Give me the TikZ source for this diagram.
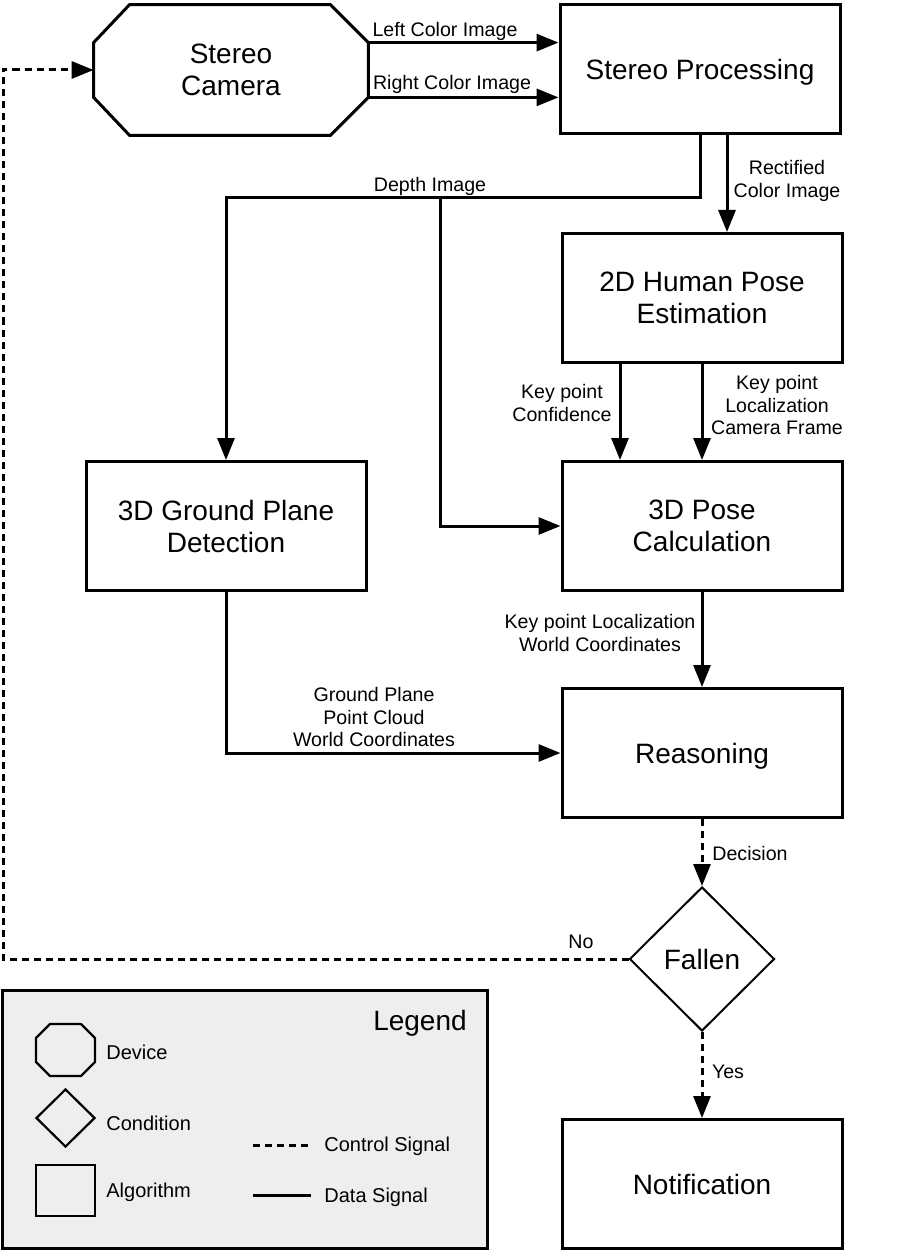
\documentclass[tikz,border=0pt]{standalone}
\usepackage{fontspec}
\setmainfont{Liberation Sans}
\usetikzlibrary{arrows.meta,calc,shapes.geometric}
\definecolor{legendgray}{HTML}{EEEEEE}
\begin{document}
\begin{tikzpicture}[x=0.5pt,y=-0.5pt,
 box/.style={draw,line width=1.5pt,minimum width=140pt,minimum height=64.5pt,align=center,font=\fontsize{14}{16}\selectfont,inner sep=0pt},
 camnode/.style={minimum width=137pt,minimum height=65pt,align=center,font=\fontsize{14}{16}\selectfont,inner sep=0pt},
 lbl/.style={align=center,font=\fontsize{9.8}{11.3}\selectfont,inner sep=0pt},
 legtxt/.style={anchor=west,font=\fontsize{10}{12}\selectfont,inner sep=0pt},
 data/.style={line width=1.5pt,-{Triangle[length=11pt,width=8.5pt]}},
 ctrl/.style={data,dash pattern=on 3.5pt off 2.5pt},
 ctrlline/.style={line width=1.5pt,dash pattern=on 3.5pt off 2.5pt},
 dataline/.style={line width=1.5pt},
]
\useasboundingbox (0,0) rectangle (902,1251);

% nodes
\node[camnode] (cam) at (231,70) {Stereo\\Camera};
\draw[line width=1.5pt] ($(cam.north west)+(36,0)$) -- ($(cam.north east)+(-38,0)$) -- ($(cam.north east)+(0,38)$) -- ($(cam.south east)+(0,-38)$) -- ($(cam.south east)+(-38,0)$) -- ($(cam.south west)+(36,0)$) -- ($(cam.south west)+(0,-38)$) -- ($(cam.north west)+(0,38)$) -- cycle;
\node[box,text depth=0pt] (proc) at (700,69) {Stereo Processing};
\node[box] (hpe) at (702,298) {2D Human Pose\\Estimation};
\node[box] (gp) at (226,526) {3D Ground Plane\\Detection};
\node[box] (p3) at (702,526) {3D Pose\\Calculation};
\node[box,text depth=0pt] (reason) at (702,753) {Reasoning};
\node[draw,diamond,line width=1pt,minimum width=72.5pt,minimum height=72pt,inner sep=0pt,aspect=1,font=\fontsize{14}{16}\selectfont] (fall) at (702,959) {Fallen};
\node[box] (notif) at (702,1184) {Notification};

% coordinates
\coordinate (camR1) at ($(cam.north east)+(0,38)$);
\coordinate (camR2) at ($(cam.south east)+(0,-38)$);
\coordinate (dj) at (440,198);
\coordinate (lx) at (3,0);

% connectors
\draw[data] (camR1) -- (camR1 -| proc.west);
\draw[data] (camR2) -- (camR2 -| proc.west);
\draw[data] (proc.south) |- (dj -| gp.north) -- (gp.north);
\draw[data] (dj) |- (p3.west);
\draw[data] ([xshift=13.5pt]proc.south) -- ([xshift=13.5pt]proc.south |- hpe.north);
\draw[data] ([xshift=-41pt]hpe.south) -- ([xshift=-41pt]hpe.south |- p3.north);
\draw[data] (hpe.south) -- (p3.north);
\draw[data] (p3.south) -- (reason.north);
\draw[data] (gp.south) |- (reason.west);
\draw[ctrl] (reason.south) -- (fall.north);
\draw[ctrl] (fall.south) -- (notif.north);
\draw[ctrl] (fall.west) -- (fall.west -| lx) |- (cam.west);

% labels
\node[lbl] (l1) at (445,31) {Left Color Image};
\node[lbl] (l2) at (452,84) {Right Color Image};
\node[lbl] (l3) at (430,186) {Depth Image};
\node[lbl] (l4) at (787,181) {Rectified\\Color Image};
\node[lbl] (l5) at (562,403) {Key point\\Confidence};
\node[lbl] (l6) at (777,405) {Key point\\Localization\\Camera Frame};
\node[lbl] (l7) at (600,633) {Key point Localization\\World Coordinates};
\node[lbl] (l8) at (374,717) {Ground Plane\\Point Cloud\\World Coordinates};
\node[lbl] (l9) at (750,853) {Decision};
\node[lbl] (l10) at (581,942) {No};
\node[lbl] (l11) at (728,1072) {Yes};

% legend
\node[draw,fill=legendgray,line width=1.5pt,minimum width=242.5pt,minimum height=129pt,inner sep=0pt] (leg) at (244.5,1119) {};
\node[font=\fontsize{14}{16}\selectfont,inner sep=0pt] (legt) at (420,1023) {Legend};
\draw[line width=1.1pt] (50,1024) -- (81,1024) -- (95,1038) -- (95,1062) -- (81,1076) -- (50,1076) -- (36,1062) -- (36,1038) -- cycle;
\node[draw,diamond,line width=1.1pt,minimum width=29.5pt,minimum height=29pt,inner sep=0pt,aspect=1] (legd) at (65.5,1118) {};
\node[draw,line width=1.1pt,minimum width=29.5pt,minimum height=25.5pt,inner sep=0pt] (legs) at (65.5,1190.5) {};
\node[legtxt] (t1) at (106,1052) {Device};
\node[legtxt] (t2) at (106,1123) {Condition};
\node[legtxt] (t3) at (106,1192) {Algorithm};
\coordinate (c1a) at (253,1145);
\coordinate (c1b) at (311,1145);
\coordinate (c2a) at (253,1195);
\coordinate (c2b) at (311,1195);
\draw[ctrlline] (c1a) -- (c1b);
\draw[dataline] (c2a) -- (c2b);
\node[legtxt] (t4) at (324,1146) {Control Signal};
\node[legtxt] (t5) at (324,1197) {Data Signal};
\end{tikzpicture}
\end{document}
